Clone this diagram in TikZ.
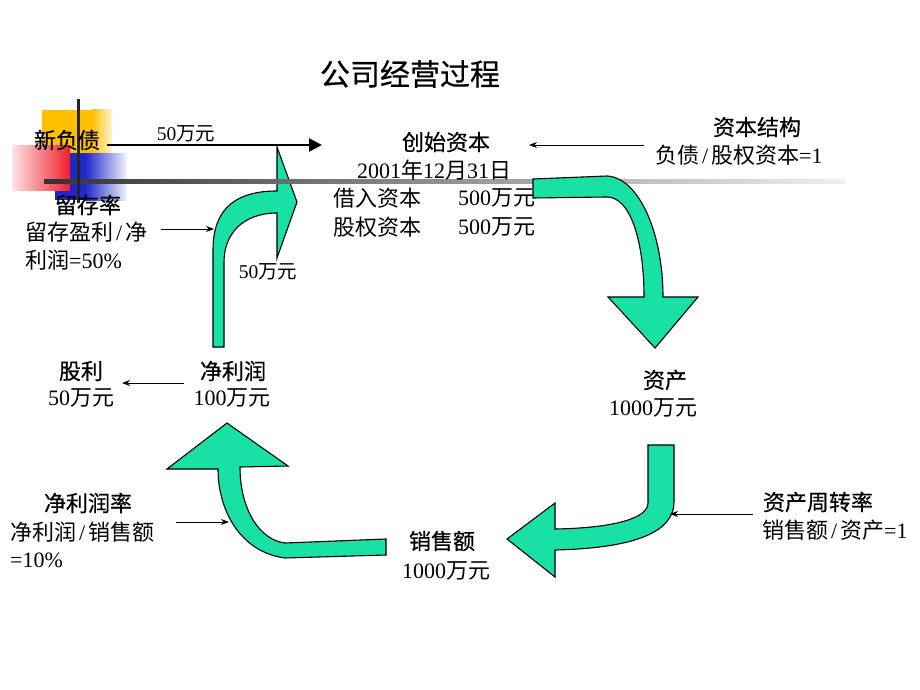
\documentclass[tikz,border=0pt]{standalone}
\usepackage{fontspec}
\setmainfont{Liberation Serif}
\newfontfamily\zhfont{Noto Sans CJK SC}
\newfontfamily\zhbold[FakeBold=0.5]{Noto Sans CJK SC}
\newcommand\zh[1]{{\zhfont #1}}
\newcommand\slsh{\makebox[12pt]{/}}
\usetikzlibrary{arrows.meta}
\definecolor{turq}{RGB}{25,225,165}
\definecolor{gold}{RGB}{255,192,0}
\definecolor{dblue}{RGB}{30,40,200}
\definecolor{dred}{RGB}{240,30,45}
\begin{document}
\begin{tikzpicture}[x=1pt,y=-1pt,
  greenarrow/.style={fill=turq, draw=black, line width=1.1pt, line join=miter},
  heading/.style={inner sep=0pt, font=\zhbold\fontsize{22}{26}\selectfont},
  bodytxt/.style={inner sep=0pt, font=\fontsize{22}{26}\selectfont},
  smalltxt/.style={inner sep=0pt, font=\fontsize{19.5}{23}\selectfont},
  pointer/.style={line width=0.9pt, -{Stealth[length=8pt,width=6pt]}},
  bigpointer/.style={line width=2.6pt, -{Triangle[length=13pt,width=13pt]}},
  ]
\useasboundingbox (0,0) rectangle (920,690);
\fill[white] (0,0) rectangle (920,690);

% decorative squares
\fill[gold] (42,110) rectangle (92,153);
\shade[left color=gold, right color=gold!15] (92,110) rectangle (112,153);
\fill[dblue] (55,153) rectangle (85,200);
\shade[left color=dblue, right color=dblue!5] (85,153) rectangle (127,200);
\shade[left color=dred!12, right color=dred] (12,145) rectangle (70,190);

% green arrow 1 (up then right)
\path[greenarrow] (213,347) -- (213,250) .. controls (213,205) and (240,191) .. (277,191)
  -- (277,147) -- (297,202) -- (277,258) -- (277,213)
  .. controls (245,213) and (224,232) .. (224,262) -- (224,347) -- cycle;

% decorative lines
\shade[left color=black!80, right color=black!6] (44,179.5) rectangle (845,183);
\fill[black!85] (76.5,99) rectangle (79.5,203);

% green arrow 2 (right then down)
\path[greenarrow] (533,179) -- (607,176) .. controls (640,178) and (663,235) .. (663,297)
  -- (698,297) -- (655,348) -- (608,297) -- (644,297)
  .. controls (644,240) and (630,197) .. (607,197) -- (533,198) -- cycle;

% green arrow 3 (down then left)
\path[greenarrow] (648,445) -- (674,445) -- (674,502) .. controls (674,530) and (640,548) .. (555,550)
  -- (555,577) -- (507,539) -- (555,503) -- (555,529)
  .. controls (615,528) and (648,518) .. (648,503) -- cycle;

% green arrow 4 (left then up)
\path[greenarrow] (386,555) -- (285,558) .. controls (240,552) and (218,510) .. (218,469)
  -- (167,469) -- (227,423) -- (288,466) -- (240,467)
  .. controls (240,510) and (260,540) .. (285,543) -- (386,539) -- cycle;

% title
\node[inner sep=0pt, font=\zhbold\fontsize{30}{34}\selectfont] (title) at (410,74) {公司经营过程};

% texts
\node[heading] (xfz) at (67,140) {新负债};
\node[smalltxt] (w50a) at (186,134) {50\zh{万元}};
\node[heading] (csbz) at (446,142) {创始资本};
\node[bodytxt] (date) at (434,170) {2001\zh{年}12\zh{月}31\zh{日}};
\node[bodytxt, anchor=west] (jr) at (333,198) {\zh{借入资本}};
\node[bodytxt, anchor=west] (jrv) at (458,198) {500\zh{万元}};
\node[bodytxt, anchor=west] (gq) at (333,227) {\zh{股权资本}};
\node[bodytxt, anchor=west] (gqv) at (458,227) {500\zh{万元}};
\node[heading] (zbjg) at (757,127) {资本结构};
\node[bodytxt, anchor=west] (zbjgv) at (655,155) {\zh{负债}\slsh\zh{股权资本}=1};
\node[heading] (lcl) at (88,205) {留存率};
\node[bodytxt, anchor=west] (lclv1) at (25,232) {\zh{留存盈利}\slsh\zh{净}};
\node[bodytxt, anchor=west] (lclv2) at (25,260) {\zh{利润}=50\%};
\node[smalltxt] (w50b) at (268,272) {50\zh{万元}};
\node[heading] (gl) at (81,371) {股利};
\node[bodytxt] (glv) at (81,398) {50\zh{万元}};
\node[heading] (jlr) at (233,371) {净利润};
\node[bodytxt] (jlrv) at (232,398) {100\zh{万元}};
\node[heading] (zc) at (665,380) {资产};
\node[bodytxt] (zcv) at (653,408) {1000\zh{万元}};
\node[heading] (jlrl) at (88,503) {净利润率};
\node[bodytxt, anchor=west] (jlrlv1) at (10,532) {\zh{净利润}\slsh\zh{销售额}};
\node[bodytxt, anchor=west] (jlrlv2) at (10,560) {=10\%};
\node[heading] (zczzl) at (818,502) {资产周转率};
\node[bodytxt, anchor=west] (zczzlv) at (762,530) {\zh{销售额}\slsh\zh{资产}=1};
\node[heading] (xse) at (442,541) {销售额};
\node[bodytxt] (xsev) at (446,571) {1000\zh{万元}};

% connectors
\coordinate (bA1) at (107,145);
\coordinate (bA2) at (322,145);
\draw[bigpointer] (bA1) -- (bA2);
\coordinate (p1s) at (644,145);
\coordinate (p1e) at (529,145);
\draw[pointer] (p1s) -- (p1e);
\coordinate (p2s) at (161,229);
\coordinate (p2e) at (214,229);
\draw[pointer] (p2s) -- (p2e);
\coordinate (p3s) at (184,383);
\coordinate (p3e) at (122,383);
\draw[pointer] (p3s) -- (p3e);
\coordinate (p4s) at (753,514);
\coordinate (p4e) at (670,514);
\draw[pointer] (p4s) -- (p4e);
\coordinate (p5s) at (176,522);
\coordinate (p5e) at (229,522);
\draw[pointer] (p5s) -- (p5e);
\end{tikzpicture}
\end{document}
